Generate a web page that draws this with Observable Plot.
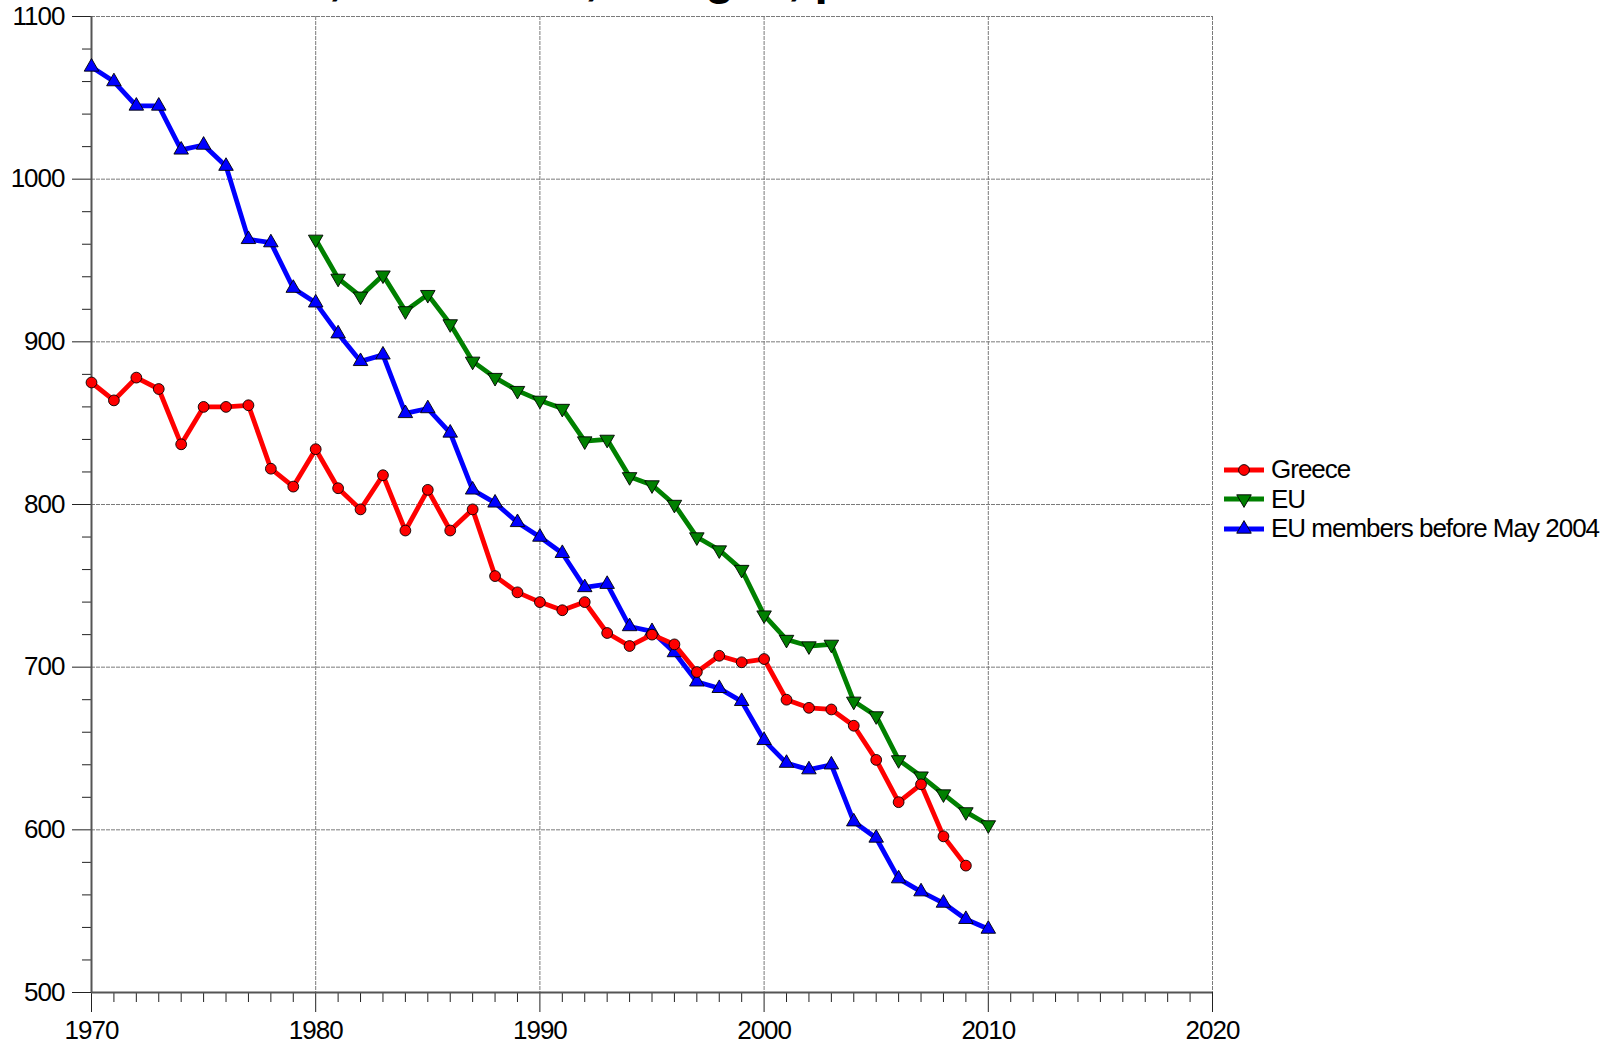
<!DOCTYPE html>
<html><head><meta charset="utf-8">
<script src="https://cdn.jsdelivr.net/npm/d3@7"></script>
<script src="https://cdn.jsdelivr.net/npm/@observablehq/plot@0.6"></script>
<style>
html,body{margin:0;padding:0;background:#fff;}
#wrap{position:relative;width:1620px;height:1046px;overflow:hidden;font-family:"Liberation Sans",Arial,sans-serif;}
#chart{position:absolute;left:0;top:0;}
#chart text{letter-spacing:-1px;}
#title{position:absolute;left:0;width:1290px;top:-46px;text-align:center;font-weight:bold;font-size:48px;line-height:48px;white-space:nowrap;color:#000;}
#legend{position:absolute;left:1224px;top:455px;font-size:26px;color:#000;}
.row{display:flex;align-items:center;height:29.5px;white-space:nowrap;letter-spacing:-1px;}
.row svg{margin-right:7px;flex:none;}
</style></head><body>
<div id="wrap"><div id="chart"></div><div id="title"></div><div id="legend"></div></div>
<script>
const titleText = "SDR, all causes, all ages, per 100000";
const seriesNames = ["Greece", "EU", "EU members before May 2004"];
const seriesColors = ["#ff0000", "#008000", "#0000ff"];

const greeceStart = 1970;
const greeceValues = [875, 864, 878, 871, 837, 860, 860, 861, 822, 811,
  834, 810, 797, 818, 784, 809, 784, 797, 756, 746,
  740, 735, 740, 721, 713, 720, 714, 697, 707, 703,
  705, 680, 675, 674, 664, 643, 617, 628, 596, 578];

const euStart = 1980;
const euValues = [963, 939, 928, 941, 919, 929, 911, 888, 878, 870,
  864, 859, 839, 840, 817, 812, 800, 780, 772, 760,
  732, 717, 713, 714, 679, 670, 643, 633, 622, 611, 603];

const eu15Start = 1970;
const eu15Values = [1069, 1060, 1045, 1045, 1018, 1021, 1008, 963, 961, 933,
  924, 905, 888, 892, 856, 859, 844, 809, 801, 789,
  780, 770, 749, 751, 725, 722, 709, 691, 687, 679,
  655, 641, 637, 640, 605, 595, 570, 562, 555, 545, 539];

const xMajorTicks = [1970, 1980, 1990, 2000, 2010, 2020];
const yMajorTicks = [500, 600, 700, 800, 900, 1000, 1100];

const toRows = (start, vals) => vals.map((v, i) => ({year: start + i, value: v}));
const greece = toRows(greeceStart, greeceValues);
const eu = toRows(euStart, euValues);
const eu15 = toRows(eu15Start, eu15Values);

const xMinorTicks = d3.range(1970, 2021, 1).filter(d => d % 10 !== 0);
const yMinorTicks = d3.range(500, 1101, 20).filter(d => d % 100 !== 0);

const gridStyle = {stroke: "#7a7a7a", strokeOpacity: 1, strokeWidth: 1, strokeDasharray: "4,1"};
const lineW = 4.8;
const rTri = 5.4;
const rCirc = 5.4;

const chart = Plot.plot({
  width: 1620,
  height: 1046,
  marginLeft: 91,
  marginRight: 408,
  marginTop: 16,
  marginBottom: 54,
  x: {domain: [1970, 2020], label: null},
  y: {domain: [500, 1100], label: null},
  style: {background: "white", fontFamily: "'Liberation Sans', Arial, sans-serif", fontSize: "26px", color: "#000", overflow: "visible"},
  marks: [
    Plot.gridX(xMajorTicks, gridStyle),
    Plot.gridY(yMajorTicks, gridStyle),
    Plot.axisY(yMinorTicks, {tickSize: 9, tickFormat: () => "", label: null, stroke: "#222"}),
    Plot.axisY(yMajorTicks, {tickSize: 19, tickPadding: 8, fontSize: 26, label: null, tickFormat: d => String(d), stroke: "#222"}),
    Plot.axisX(xMinorTicks, {tickSize: 10, tickFormat: () => "", label: null, stroke: "#222"}),
    Plot.axisX(xMajorTicks, {tickSize: 20, tickPadding: 8, fontSize: 26, label: null, tickFormat: d => String(d), stroke: "#222"}),
    Plot.ruleX([1970], {stroke: "#555", strokeWidth: 2}),
    Plot.ruleY([500], {stroke: "#555", strokeWidth: 2}),
    Plot.line(eu15, {x: "year", y: "value", stroke: seriesColors[2], strokeWidth: lineW}),
    Plot.dot(eu15, {x: "year", y: "value", symbol: "triangle", r: rTri, fill: seriesColors[2], stroke: "#000", strokeWidth: 0.9}),
    Plot.line(eu, {x: "year", y: "value", stroke: seriesColors[1], strokeWidth: lineW}),
    Plot.dot(eu, {x: "year", y: "value", symbol: "triangle", rotate: 180, r: rTri, fill: seriesColors[1], stroke: "#000", strokeWidth: 0.9}),
    Plot.line(greece, {x: "year", y: "value", stroke: seriesColors[0], strokeWidth: lineW}),
    Plot.dot(greece, {x: "year", y: "value", symbol: "circle", r: rCirc, fill: seriesColors[0], stroke: "#000", strokeWidth: 0.9})
  ]
});
document.getElementById("chart").appendChild(chart);
document.getElementById("title").textContent = titleText;

// legend
const legend = d3.select("#legend");
const symbols = [
  {type: d3.symbolCircle, size: Math.PI * rCirc * rCirc, rot: 0},
  {type: d3.symbolTriangle, size: Math.PI * rTri * rTri, rot: 180},
  {type: d3.symbolTriangle, size: Math.PI * rTri * rTri, rot: 0}
];
seriesNames.forEach((name, i) => {
  const row = legend.append("div").attr("class", "row");
  const svg = row.append("svg").attr("width", 40).attr("height", 20);
  svg.append("line").attr("x1", 0).attr("x2", 40).attr("y1", 10).attr("y2", 10)
    .attr("stroke", seriesColors[i]).attr("stroke-width", lineW);
  svg.append("path").attr("d", d3.symbol(symbols[i].type, symbols[i].size)())
    .attr("transform", `translate(20,10) rotate(${symbols[i].rot})`)
    .attr("fill", seriesColors[i]).attr("stroke", "#000").attr("stroke-width", 0.9);
  row.append("span").text(name);
});
</script>
</body></html>
